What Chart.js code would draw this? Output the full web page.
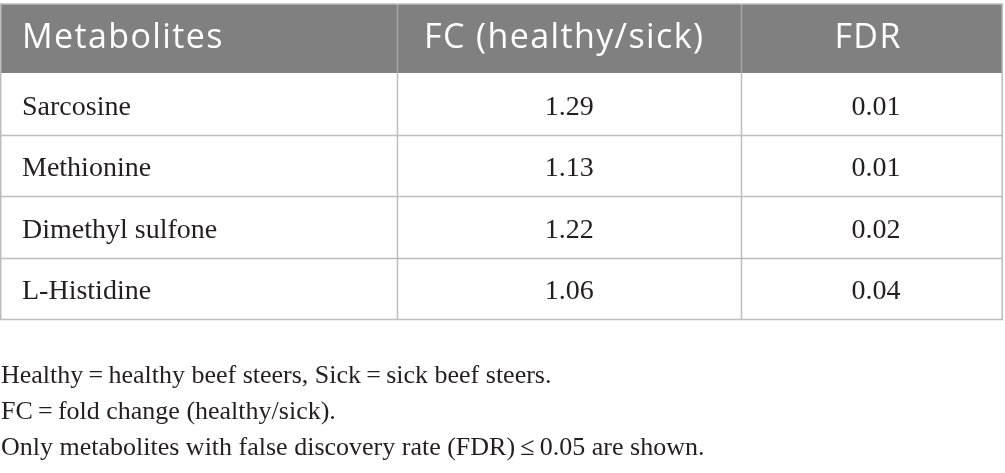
<!DOCTYPE html>
<html>
<head>
<meta charset="utf-8">
<script src="https://cdn.jsdelivr.net/npm/chart.js@4.4.1/dist/chart.umd.min.js"></script>
<style>
  html, body { margin: 0; padding: 0; background: #fff; }
</style>
</head>
<body>
<canvas id="canvas-table" width="1005" height="473"></canvas>
<script>
// donnees du tableau
const headers = ["Metabolites", "FC (healthy/sick)", "FDR"];
const metabolites = ["Sarcosine", "Methionine", "Dimethyl sulfone", "L-Histidine"];
const foldChange = [1.29, 1.13, 1.22, 1.06];
const fdr = [0.01, 0.01, 0.02, 0.04];
const footnotes = [
  "Healthy\u2009=\u2009healthy beef steers, Sick\u2009=\u2009sick beef steers.",
  "FC\u2009=\u2009fold change (healthy/sick).",
  "Only metabolites with false discovery rate (FDR)\u2009\u2264\u20090.05 are shown.",
];

// bords des colonnes en fraction de la largeur (style)
const colEdges = [0, 0.396, 0.739, 1];
const lineColor = "#bdbdbd";
const headerFill = "#808080";
const textColor = "#231f20";

const tablePlugin = {
  id: "tablePlugin",
  afterDraw(chart) {
    const ctx = chart.ctx;
    const x = chart.scales.x;
    const y = chart.scales.y;
    const area = chart.chartArea;
    const rowH = y.getPixelForValue(1) - y.getPixelForValue(0);
    const xs = colEdges.map((e) => x.getPixelForValue(e));
    const headTop = 4;

    ctx.save();
    // entete
    ctx.fillStyle = headerFill;
    ctx.fillRect(xs[0], headTop, xs[3] - xs[0], area.top - headTop);
    ctx.strokeStyle = "#a6a6a6";
    ctx.lineWidth = 1.5;
    [1, 2].forEach((i) => {
      ctx.beginPath();
      ctx.moveTo(Math.round(xs[i]) + 0.5, headTop);
      ctx.lineTo(Math.round(xs[i]) + 0.5, area.top);
      ctx.stroke();
    });
    ctx.fillStyle = "#ffffff";
    ctx.font = "34px 'Open Sans'";
    ctx.letterSpacing = "1.4px";
    ctx.textBaseline = "alphabetic";
    const headBase = area.top - 25;
    ctx.textAlign = "left";
    ctx.fillText(headers[0], xs[0] + 22, headBase);
    ctx.textAlign = "center";
    ctx.fillText(headers[1], (xs[1] + xs[2]) / 2 - 5, headBase);
    ctx.fillText(headers[2], (xs[2] + xs[3]) / 2 - 4, headBase);

    // lignes du corps
    ctx.strokeStyle = lineColor;
    ctx.lineWidth = 1.5;
    metabolites.forEach((m, i) => {
      const yc = y.getPixelForValue(i);
      const yb = Math.round(yc + rowH / 2) + 0.5;
      ctx.beginPath();
      ctx.moveTo(xs[0], yb);
      ctx.lineTo(xs[3], yb);
      ctx.stroke();
    });
    ctx.beginPath();
    ctx.moveTo(xs[0], headTop);
    ctx.lineTo(xs[3], headTop);
    ctx.stroke();
    xs.forEach((xx, i) => {
      const px = i === 0 ? xx + 0.75 : i === 3 ? xx - 0.75 : Math.round(xx) + 0.5;
      ctx.beginPath();
      ctx.moveTo(px, i === 0 || i === 3 ? headTop : area.top);
      ctx.lineTo(px, area.bottom + 0.5);
      ctx.stroke();
    });

    // texte des cellules
    ctx.fillStyle = textColor;
    ctx.font = "28px 'Liberation Serif'";
    ctx.letterSpacing = "0px";
    metabolites.forEach((m, i) => {
      const yc = y.getPixelForValue(i) + 11;
      ctx.textAlign = "left";
      ctx.fillText(m, xs[0] + 22, yc);
      ctx.textAlign = "center";
      ctx.fillText(foldChange[i].toFixed(2), (xs[1] + xs[2]) / 2, yc);
      ctx.fillText(fdr[i].toFixed(2), (xs[2] + xs[3]) / 2 + 4, yc);
    });

    // notes
    ctx.font = "26px 'Liberation Serif'";
    ctx.textAlign = "left";
    footnotes.forEach((t, i) => {
      ctx.fillText(t, 1, area.bottom + 64 + i * 36);
    });
    ctx.restore();
  },
};

new Chart(document.getElementById("canvas-table").getContext("2d"), {
  type: "scatter",
  data: {
    labels: metabolites,
    datasets: [
      {
        label: "FC",
        data: foldChange.map((v, i) => ({ x: 0.5, y: metabolites[i] })),
        pointRadius: 0,
      },
    ],
  },
  options: {
    responsive: false,
    animation: false,
    events: [],
    layout: { padding: { top: 73, bottom: 154, left: 0, right: 2 } },
    plugins: { legend: { display: false }, tooltip: { enabled: false } },
    scales: {
      x: { type: "linear", min: 0, max: 1, display: false },
      y: { type: "category", labels: metabolites, offset: true, display: false },
    },
  },
  plugins: [tablePlugin],
});
</script>
</body>
</html>
